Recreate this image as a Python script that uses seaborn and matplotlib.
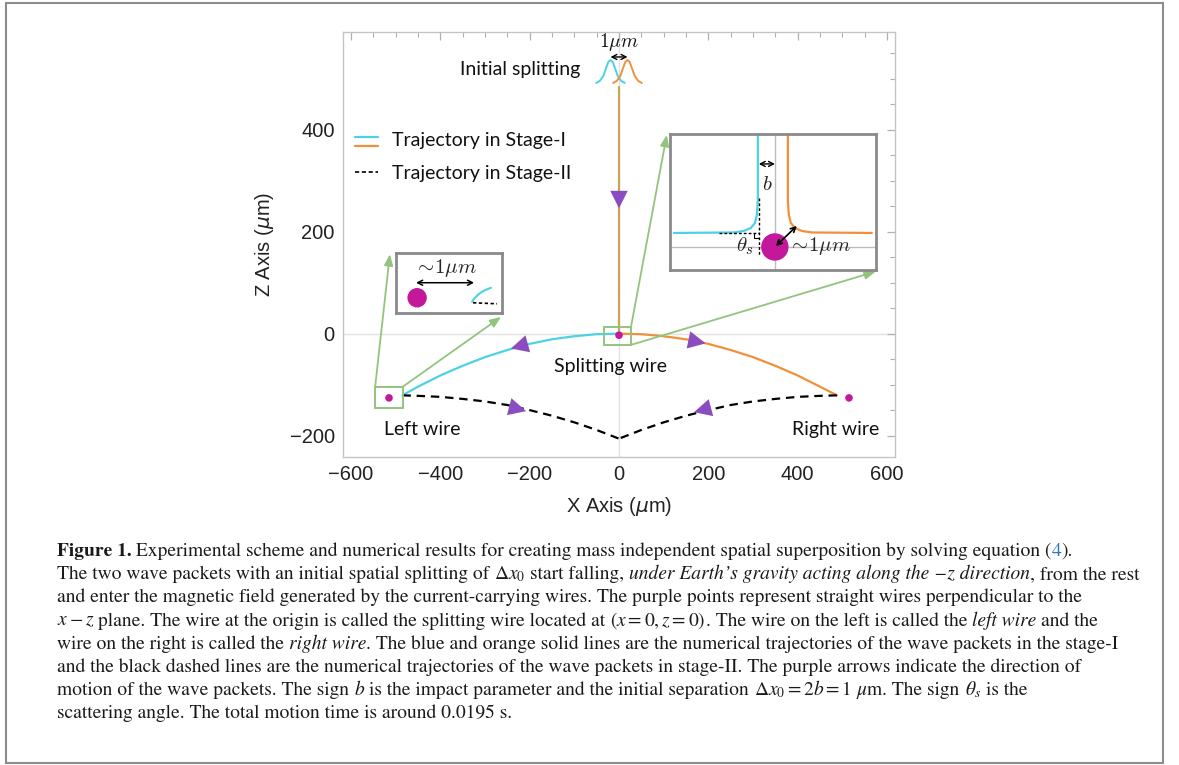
import numpy as np
import pandas as pd
import matplotlib
matplotlib.use("Agg")
import matplotlib.pyplot as plt
import seaborn as sns
from matplotlib.patches import Rectangle, Circle
from matplotlib.lines import Line2D

# ---------------- data (micrometres) ----------------
stage1_left_x = [0, -50, -100, -150, -200, -250, -300, -350, -400, -450, -485]
stage1_left_z = [0, -1, -5, -11, -20, -32, -46, -63, -82, -104, -121]
stage1_right_x = [0, 50, 100, 150, 200, 250, 300, 350, 400, 450, 488]
stage1_right_z = [0, -1, -5, -11, -20, -32, -46, -63, -82, -104, -121]
stage2_left_x = [-485, -450, -400, -350, -300, -250, -200, -150, -100, -50, 0]
stage2_left_z = [-121, -122, -124, -128, -133, -140, -150, -161, -174, -189, -206]
stage2_right_x = [488, 450, 400, 350, 300, 250, 200, 150, 100, 50, 0]
stage2_right_z = [-121, -122, -124, -128, -133, -140, -150, -161, -174, -189, -206]
fall_x = [0, 0]
fall_z = [484, 0]
wire_x = [-515, 0, 515]
wire_z = [-126, -3, -126]
wire_names = ["Left wire", "Splitting wire", "Right wire"]

# initial wave packets (schematic bells)
packet_centers = [-19, 19]
bell_dx = [-32, -24, -16, -10, -5, 0, 5, 10, 16, 24, 32]
bell_h = [0, 4, 14, 29, 41, 45, 41, 29, 14, 4, 0]
bell_base = 492

# direction arrows (tail, head)
arrow_tail = [(0, 292), (-188, -16), (138, -9), (-264, -139), (224, -141)]
arrow_head = [(0, 246), (-242, -29), (194, -19), (-208, -152), (168, -154)]

xticks = [-600, -400, -200, 0, 200, 400, 600]
zticks = [-200, 0, 200, 400]

# ---------------- style ----------------
sns.set_theme(style="white")
plt.rcParams["font.family"] = ["Liberation Sans", "DejaVu Sans"]
plt.rcParams["axes.unicode_minus"] = True

W, H = 1179, 765
fig = plt.figure(figsize=(W / 100, H / 100), dpi=100)
fig.patch.set_facecolor("white")

cyan = "#4dd2e4"
orange = "#f0913a"
tan = "#c9a356"
magenta = "#c3189b"
purple = "#8a4cc0"
green = "#93c47d"
boxgray = "#8a8a8a"
label_font = ["Lato", "DejaVu Sans"]
label_size = 14

ax = fig.add_axes([343 / W, 1 - 457 / H, (895 - 343) / W, (457 - 32) / H])
ax.set_xlim(-618, 618)
ax.set_ylim(-242, 592)

# reference grid lines at zero
ax.axhline(0, color="#e2e2e2", lw=1, zorder=0)
ax.axvline(0, color="#e2e2e2", lw=1, zorder=0)

def line(xs, zs, **kw):
    df = pd.DataFrame({"x": xs, "z": zs})
    sns.lineplot(data=df, x="x", y="z", sort=False, estimator=None, ax=ax, **kw)

line(fall_x, fall_z, color=tan, lw=1.6, zorder=3)
line(stage1_left_x, stage1_left_z, color=cyan, lw=1.6, zorder=3)
line(stage1_right_x, stage1_right_z, color=orange, lw=1.6, zorder=3)
line(stage2_left_x, stage2_left_z, color="black", lw=1.6, dashes=(3.8, 2.6), zorder=3)
line(stage2_right_x, stage2_right_z, color="black", lw=1.6, dashes=(3.8, 2.6), zorder=3)

for c, col in zip(packet_centers, [cyan, orange]):
    line([c + d for d in bell_dx], [bell_base + h for h in bell_h], color=col, lw=1.4, zorder=3)

sns.scatterplot(x=wire_x, y=wire_z, color=magenta, s=30, edgecolor="none", ax=ax, zorder=5)

for (tx, tz), (hx, hz) in zip(arrow_tail, arrow_head):
    ax.annotate("", xy=(hx, hz), xytext=(tx, tz),
                arrowprops=dict(arrowstyle="-|>,head_length=0.9,head_width=0.45",
                                mutation_scale=14, lw=0, color=purple,
                                shrinkA=0, shrinkB=0), zorder=6)

# axes styling
ax.set_xticks(xticks)
ax.set_yticks(zticks)
ax.set_xticks(np.arange(-600, 601, 50), minor=True)
ax.set_yticks(np.arange(-200, 591, 50), minor=True)
ax.tick_params(which="both", direction="in", top=True, right=True, color="#b0b0b0",
               labelsize=14.5, labelcolor="#222222", pad=6)
ax.tick_params(which="major", length=6, width=0.9)
ax.tick_params(which="minor", length=3.5, width=0.8)
for s in ax.spines.values():
    s.set_color("#c4c4c4")
    s.set_linewidth(1.0)
ax.set_xlabel(r"X Axis ($\mu$m)", fontsize=14.5, color="#222222", labelpad=8)
ax.set_ylabel(r"Z Axis ($\mu$m)", fontsize=14.5, color="#222222", labelpad=10)

# legend (drawn by hand: double line for stage I)
lg = dict(transform=ax.transAxes, clip_on=False, zorder=7)
ax.add_line(Line2D([0.0217, 0.0634], [0.753, 0.753], color=cyan, lw=1.6, **lg))
ax.add_line(Line2D([0.0217, 0.0634], [0.732, 0.732], color=orange, lw=1.6, **lg))
ax.add_line(Line2D([0.0217, 0.0634], [0.671, 0.671], color="black", lw=1.2, dashes=(2.5, 1.6), **lg))
ax.text(0.0888, 0.744, "Trajectory in Stage-I", transform=ax.transAxes, va="center",
        fontsize=label_size, family=label_font, color="#111111")
ax.text(0.0888, 0.668, "Trajectory in Stage-II", transform=ax.transAxes, va="center",
        fontsize=label_size, family=label_font, color="#111111")

# labels
ax.text(-222, 518, "Initial splitting", ha="center", va="center", fontsize=label_size, family=label_font, color="#111111")
ax.text(0, 572, r"$1\mu m$", ha="center", va="center", fontsize=14, math_fontfamily="cm", color="#111111")
ax.annotate("", xy=(-19, 543), xytext=(19, 543),
            arrowprops=dict(arrowstyle="<->,head_length=0.35,head_width=0.18", mutation_scale=10,
                            lw=1.0, color="black", shrinkA=0, shrinkB=0))
label_pos = [(-441, -188), (-18, -65), (486, -188)]
for (lx, lz), name in zip(label_pos, wire_names):
    ax.text(lx, lz, name, ha="center", va="center", fontsize=label_size, family=label_font, color="#111111")

# green zoom markers and connectors
ax.add_patch(Rectangle((-546, -145), 62, 41, fill=False, ec=green, lw=1.4, zorder=4))
ax.add_patch(Rectangle((-34, -22), 61, 36, fill=False, ec=green, lw=1.4, zorder=4))
connectors = [((-546, -104), (-513, 156)), ((-484, -104), (-264, 33)),
              ((27, 14), (107, 390)), ((27, -22), (575, 122))]
for (sx, sz), (ex, ez) in connectors:
    ax.annotate("", xy=(ex, ez), xytext=(sx, sz),
                arrowprops=dict(arrowstyle="-|>,head_length=0.55,head_width=0.22", mutation_scale=12,
                                lw=1.3, color=green, shrinkA=0, shrinkB=0), zorder=4)

# ---------------- inset 1: scattering at the splitting wire ----------------
ins1 = ax.inset_axes([114, 125, 461, 267], transform=ax.transData, zorder=8)
ins1.set_xlim(0, 206)
ins1.set_ylim(0, 136)
ins1.set_xticks([]); ins1.set_yticks([])
for s in ins1.spines.values():
    s.set_color(boxgray); s.set_linewidth(2)
ins_cyan_x = [88, 88, 87, 85, 81, 74, 64, 4]
ins_cyan_y = [136, 70, 55, 47, 42, 39, 37.5, 37]
ins_orange_x = [118, 118, 119, 121, 125, 132, 142, 202]
ins_orange_y = [136, 70, 55, 47, 42, 39, 37.5, 37]
ins1.axvline(105, color="#bdbdbd", lw=1)
ins1.axhline(23, color="#bdbdbd", lw=1)
ins1.plot(ins_cyan_x, ins_cyan_y, color=cyan, lw=1.6)
ins1.plot(ins_orange_x, ins_orange_y, color=orange, lw=1.6)
ins1.plot([89, 89], [72, 15], color="black", lw=1.0, dashes=(2, 1.5))
ins1.plot([49, 89], [37, 37], color="black", lw=1.0, dashes=(2, 1.5))
ins1.plot([84, 84, 89], [37, 32, 32], color="black", lw=0.8)
ins1.add_patch(Circle((105, 23), 13, color=magenta, zorder=3))
ins1.annotate("", xy=(89, 106), xytext=(105, 106),
              arrowprops=dict(arrowstyle="<->,head_length=0.35,head_width=0.18", mutation_scale=10,
                              lw=1.0, color="black", shrinkA=0, shrinkB=0))
ins1.annotate("", xy=(127, 44), xytext=(106, 24),
              arrowprops=dict(arrowstyle="<->,head_length=0.35,head_width=0.18", mutation_scale=10,
                              lw=1.2, color="black", shrinkA=0, shrinkB=0), zorder=4)
ins1.text(97, 85, r"$b$", ha="center", va="center", fontsize=15, math_fontfamily="cm")
ins1.text(75, 24, r"$\theta_s$", ha="center", va="center", fontsize=15, math_fontfamily="cm")
ins1.text(150, 24, r"$\sim\!1\mu m$", ha="center", va="center", fontsize=15, math_fontfamily="cm")

# ---------------- inset 2: near the left wire ----------------
ins2 = ax.inset_axes([-499, 41, 237, 118], transform=ax.transData, zorder=8)
ins2.set_xlim(0, 106)
ins2.set_ylim(0, 60)
ins2.set_xticks([]); ins2.set_yticks([])
for s in ins2.spines.values():
    s.set_color(boxgray); s.set_linewidth(2)
ins2.add_patch(Circle((21, 15), 9, color=magenta))
ins2.plot([76, 78, 82, 86, 90, 95], [11, 14, 18, 21, 23, 25], color=cyan, lw=1.5)
ins2.plot([77, 101], [10, 9], color="black", lw=1.2, dashes=(2, 1.5))
ins2.annotate("", xy=(20, 30), xytext=(78, 30),
              arrowprops=dict(arrowstyle="<->,head_length=0.35,head_width=0.18", mutation_scale=10,
                              lw=1.1, color="black", shrinkA=0, shrinkB=0))
ins2.text(49, 45, r"$\sim\!1\mu m$", ha="center", va="center", fontsize=15, math_fontfamily="cm")

# ---------------- figure border ----------------
fig.add_artist(Rectangle((6 / W, 1 - 763 / H), (1163 - 6) / W, (763 - 3) / H,
                         transform=fig.transFigure, fill=False, ec="#8c8c8c", lw=1.5))

# ---------------- caption ----------------
caption_lines = [
    [("Figure 1.", "b"), (" Experimental scheme and numerical results for creating mass independent spatial superposition by solving equation (", "r"), ("4", "blue"), (").", "r")],
    [("The two wave packets with an initial spatial splitting of ", "r"), (r"$\Delta x_0$", "r"), (" start falling, ", "r"), ("under Earth\u2019s gravity acting along the \u2212z direction", "i"), (", from the rest", "r")],
    [("and enter the magnetic field generated by the current-carrying wires. The purple points represent straight wires perpendicular to the", "r")],
    [(r"$x - z$", "r"), (" plane. The wire at the origin is called the splitting wire located at ", "r"), (r"$(x = 0, z = 0)$", "r"), (". The wire on the left is called the ", "r"), ("left wire", "i"), (" and the", "r")],
    [("wire on the right is called the ", "r"), ("right wire", "i"), (". The blue and orange solid lines are the numerical trajectories of the wave packets in the stage-I", "r")],
    [("and the black dashed lines are the numerical trajectories of the wave packets in stage-II. The purple arrows indicate the direction of", "r")],
    [("motion of the wave packets. The sign ", "r"), (r"$b$", "r"), (" is the impact parameter and the initial separation ", "r"), (r"$\Delta x_0 = 2b = 1\ \mu\mathrm{m}$", "r"), (". The sign ", "r"), (r"$\theta_s$", "r"), (" is the", "r")],
    [("scattering angle. The total motion time is around 0.0195 s.", "r")],
]
cap_size = 14.0
cap_x0 = 57
cap_y0 = 556
cap_dy = 23.2
renderer = fig.canvas.get_renderer()

def style_kw(style):
    kw = dict(fontsize=cap_size, family="STIXGeneral", math_fontfamily="stix")
    if style == "i":
        kw["style"] = "italic"
    if style == "b":
        kw["weight"] = "bold"
    return kw

def width(s, style):
    t = fig.text(0, 0, s, **style_kw(style))
    w = t.get_window_extent(renderer).width
    t.remove()
    return w

for i, runs in enumerate(caption_lines):
    x = cap_x0
    y = cap_y0 + i * cap_dy
    for text, style in runs:
        stripped = text.lstrip(" ")
        nlead = len(text) - len(stripped)
        if nlead:
            x += nlead * (width("x x", style) - width("xx", style))
        color = "#2b7bb9" if style == "blue" else "#1a1a1a"
        fig.text(x / W, 1 - y / H, stripped, color=color, va="baseline", ha="left", **style_kw(style))
        x += width(stripped + "|", style) - width("|", style)

fig.savefig("out.png", dpi=100)
